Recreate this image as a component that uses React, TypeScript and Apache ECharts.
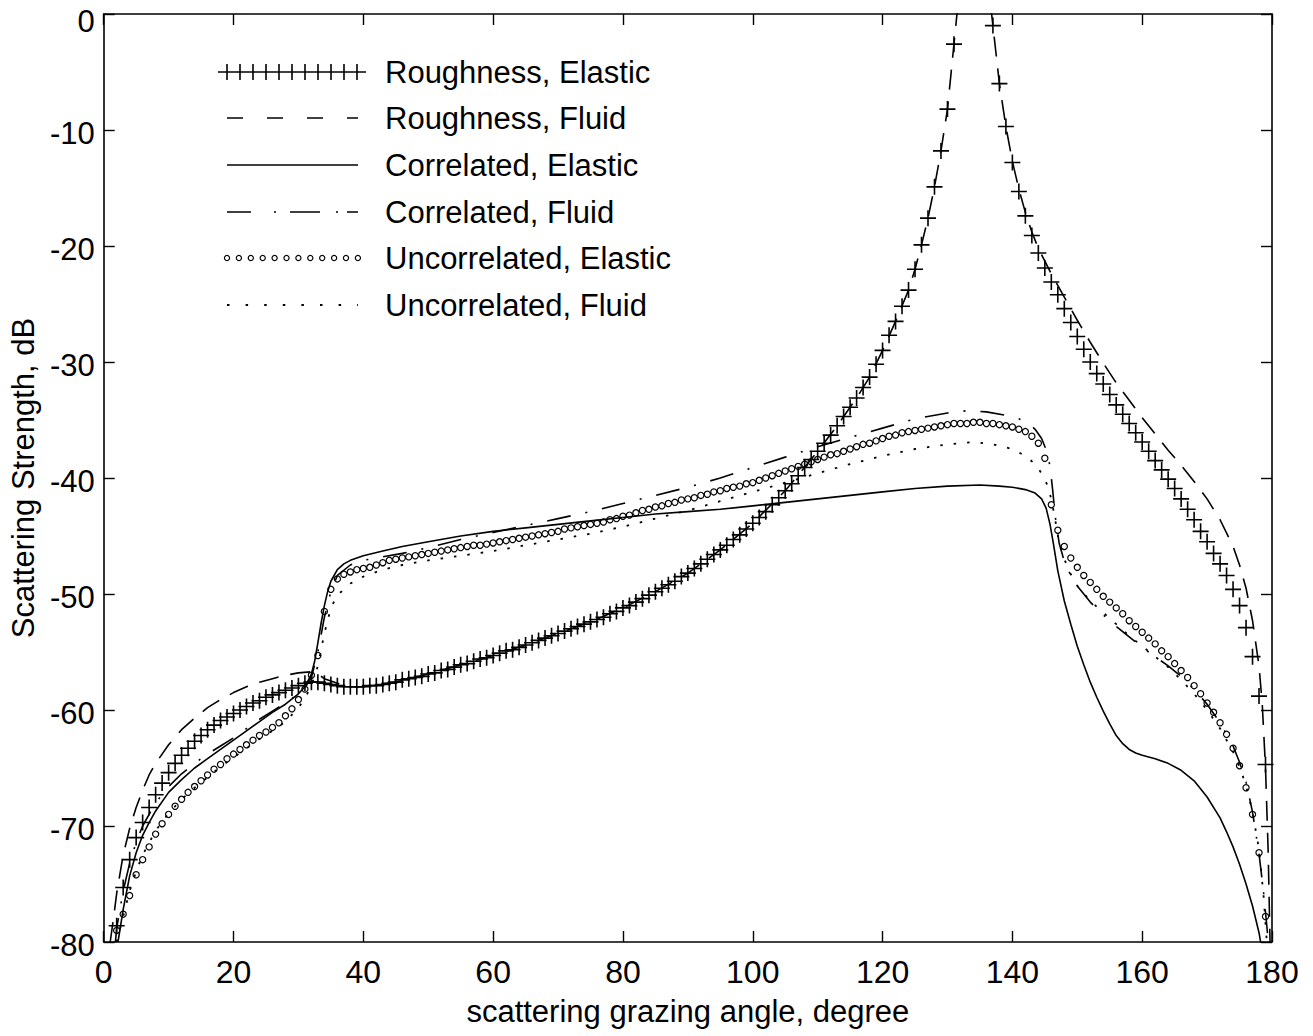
import React, { useEffect, useRef } from "react";
import * as echarts from "echarts";

// ---------------- data ----------------
const X_TICKS = [0, 20, 40, 60, 80, 100, 120, 140, 160, 180];
const Y_TICKS = [-80, -70, -60, -50, -40, -30, -20, -10, 0];

const LEGEND_LABELS = [
  "Roughness, Elastic",
  "Roughness, Fluid",
  "Correlated, Elastic",
  "Correlated, Fluid",
  "Uncorrelated, Elastic",
  "Uncorrelated, Fluid",
];

// Roughness, Elastic ('+' markers every degree), left branch from 2 deg
const RE_LEFT_START = 2;
const RE_LEFT = [
  -78.6, -75.3, -72.9, -71.0, -69.7, -68.4, -67.3, -66.3, -65.4, -64.6,
  -63.9, -63.3, -62.7, -62.2, -61.7, -61.3, -60.9, -60.6, -60.3, -60.0,
  -59.7, -59.4, -59.2, -58.9, -58.7, -58.5, -58.3, -58.1, -57.9, -57.7,
  -57.6, -57.6, -57.7, -57.8, -57.9, -58.0, -58.0, -58.0, -58.0, -57.9,
  -57.9, -57.8, -57.7, -57.6, -57.4, -57.3, -57.2, -57.1, -56.9, -56.8,
  -56.6, -56.5, -56.3, -56.1, -56.0, -55.8, -55.6, -55.5, -55.3, -55.1,
  -54.9, -54.8, -54.6, -54.4, -54.2, -54.0, -53.8, -53.6, -53.4, -53.2,
  -53.0, -52.8, -52.6, -52.4, -52.2, -52.0, -51.7, -51.5, -51.2, -51.0,
  -50.7, -50.4, -50.1, -49.8, -49.5, -49.2, -48.9, -48.5, -48.2, -47.8,
  -47.4, -47.0, -46.6, -46.2, -45.8, -45.3, -44.9, -44.4, -43.9, -43.4,
  -42.9, -42.3, -41.7, -41.1, -40.5, -39.8, -39.1, -38.4, -37.7, -37.0,
  -36.3, -35.5, -34.7, -33.9, -33.1, -32.2, -31.3, -30.2, -29.0, -27.7,
  -26.5, -25.2, -23.8, -22.0, -19.9, -17.6, -14.9, -11.8, -8.2, -2.6,
];
// right branch from 137 deg
const RE_RIGHT_START = 137;
const RE_RIGHT = [
  -1.0, -6.0, -9.7, -12.8, -15.3, -17.4, -19.1, -20.6, -21.9, -23.1,
  -24.2, -25.4, -26.6, -27.8, -28.9, -30.0, -31.0, -31.9, -32.8, -33.7,
  -34.5, -35.3, -36.1, -36.9, -37.7, -38.5, -39.3, -40.1, -40.9, -41.8,
  -42.7, -43.6, -44.6, -45.5, -46.5, -47.4, -48.4, -49.6, -51.0, -52.9,
  -55.4, -58.8, -64.7,
];

// Uncorrelated, Elastic ('o' markers every degree) from 2 deg
const UE_START = 2;
const UE = [
  -79.0, -77.6, -76.0, -74.2, -72.9, -71.8, -70.7, -69.8, -69.0, -68.3,
  -67.7, -67.1, -66.6, -66.1, -65.6, -65.1, -64.7, -64.2, -63.8, -63.4,
  -63.0, -62.6, -62.2, -61.9, -61.5, -61.1, -60.5, -59.9, -59.1, -58.2,
  -57.0, -55.3, -51.5, -49.6, -48.7, -48.3, -48.1, -47.9, -47.8, -47.7,
  -47.5, -47.3, -47.1, -47.0, -46.9, -46.8, -46.7, -46.6, -46.5, -46.4,
  -46.3, -46.2, -46.1, -46.0, -45.9, -45.8, -45.8, -45.7, -45.6, -45.5,
  -45.4, -45.3, -45.2, -45.1, -45.0, -44.9, -44.8, -44.7, -44.6, -44.4,
  -44.3, -44.2, -44.1, -44.0, -43.9, -43.8, -43.6, -43.5, -43.3, -43.2,
  -43.0, -42.8, -42.7, -42.5, -42.4, -42.2, -42.1, -41.9, -41.8, -41.7,
  -41.5, -41.4, -41.2, -41.1, -40.9, -40.8, -40.7, -40.5, -40.4, -40.2,
  -40.0, -39.8, -39.6, -39.4, -39.2, -39.0, -38.8, -38.6, -38.4, -38.2,
  -38.0, -37.9, -37.7, -37.5, -37.3, -37.1, -37.0, -36.8, -36.6, -36.4,
  -36.3, -36.1, -36.0, -35.9, -35.8, -35.7, -35.6, -35.5, -35.4, -35.3,
  -35.3, -35.3, -35.2, -35.2, -35.3, -35.3, -35.4, -35.5, -35.6, -35.8,
  -36.0, -36.4, -37.0, -38.3, -42.3, -44.5, -45.9, -46.9, -47.7, -48.4,
  -49.0, -49.6, -50.2, -50.7, -51.2, -51.7, -52.3, -52.8, -53.3, -53.8,
  -54.3, -54.9, -55.4, -56.0, -56.6, -57.2, -57.9, -58.6, -59.4, -60.2,
  -61.1, -62.1, -63.3, -64.8, -66.7, -69.0, -72.3, -77.8,
];

// Roughness, Fluid (dashed)
const RF_X = [
  1, 1.5, 2, 3, 4, 5, 6, 7, 8, 10, 12, 14, 16, 18, 20, 22, 24, 26, 28, 30,
  32, 33, 34, 36, 38, 40, 45, 50, 55, 60, 65, 70, 75, 80, 85, 90, 95, 100,
  105, 110, 113, 116, 118, 120, 122, 124, 125, 126, 127, 128, 129, 130, 131,
  132, 134, 136, 137, 138, 139, 140, 141, 142, 143, 144, 146, 148, 150, 152,
  154, 156, 158, 160, 162, 164, 166, 168, 170, 172, 174, 175, 176, 177, 178,
  178.5, 179, 179.4, 179.7,
];
const RF_Y = [
  -80, -78, -75.8, -72.5, -70.2, -68.4, -66.9, -65.6, -64.6, -63.0, -61.7,
  -60.7, -59.8, -59.1, -58.5, -58.0, -57.6, -57.3, -57.0, -56.8, -56.7, -56.9,
  -57.3, -57.7, -58.0, -58.0, -57.6, -56.9, -56.1, -55.3, -54.4, -53.4, -52.4,
  -51.2, -49.8, -48.2, -46.2, -43.9, -41.1, -37.7, -35.5, -33.1, -31.3, -29.0,
  -26.5, -23.8, -22.0, -19.9, -17.6, -14.9, -11.8, -8.2, -2.6, 3, 8, 4, -1.0,
  -6.0, -9.7, -12.7, -15.1, -17.1, -18.8, -20.2, -22.4, -24.4, -26.4, -28.3,
  -30.1, -31.8, -33.3, -34.8, -36.2, -37.6, -38.9, -40.3, -41.8, -43.6, -45.9,
  -47.5, -49.5, -52.3, -56.2, -59.5, -65, -72, -80,
];

// Correlated, Elastic (solid)
const CE_X = [
  2.2, 3, 4, 5, 6, 7, 8, 10, 12, 14, 16, 18, 20, 22, 24, 26, 28, 30, 31, 32,
  32.5, 33, 33.5, 34, 34.5, 35, 36, 37, 38, 40, 43, 46, 50, 55, 60, 65, 70, 75,
  80, 85, 90, 95, 100, 105, 110, 115, 120, 125, 130, 135, 138, 140, 142, 143.5,
  144.5, 145.2, 145.8, 146.3, 147, 148, 149, 150, 151, 152, 153, 154, 155, 156,
  157, 158, 159, 160, 162, 164, 166, 168, 170, 172, 173, 174, 175, 176, 177,
  178, 178.4,
];
const CE_Y = [
  -80, -77.2, -74.3, -72.3, -70.8, -69.7, -68.7, -67.1, -66.0, -65.0, -64.2,
  -63.4, -62.6, -61.8, -61.0, -60.2, -59.5, -58.6, -58.0, -56.9, -55.8, -54.2,
  -52.5, -51.0, -49.8, -48.9, -47.9, -47.4, -47.1, -46.7, -46.3, -45.9, -45.5,
  -45.0, -44.6, -44.3, -44.0, -43.7, -43.4, -43.1, -42.9, -42.7, -42.4, -42.1,
  -41.8, -41.5, -41.2, -40.9, -40.7, -40.6, -40.7, -40.8, -41.0, -41.3, -41.8,
  -42.6, -44.0, -45.6, -48.0, -50.6, -52.6, -54.5, -56.1, -57.6, -58.9, -60.1,
  -61.2, -62.2, -62.9, -63.4, -63.7, -63.9, -64.2, -64.6, -65.2, -66.1, -67.5,
  -69.3, -70.5, -71.8, -73.3, -75.0, -76.9, -79.2, -80.5,
];

// Correlated, Fluid (dash-dot)
const CF_X = [
  1.8, 2, 3, 4, 5, 6, 8, 10, 12, 14, 16, 18, 20, 22, 24, 26, 28, 30, 31, 32,
  33, 34, 35, 36, 38, 40, 43, 46, 50, 55, 60, 65, 70, 75, 80, 85, 90, 95, 100,
  105, 110, 115, 120, 125, 130, 133, 136, 139, 141, 142.5, 143.5, 144.5, 145.3,
  145.8, 146.2, 146.6, 147.2, 148, 149, 150, 152, 154, 156, 158, 160, 162, 164,
  166, 168, 170, 172, 174, 175, 176, 177, 178, 178.7, 179.2, 179.5,
];
const CF_Y = [
  -80, -78.8, -75.6, -73.2, -71.4, -70.0, -68.0, -66.6, -65.5, -64.6, -63.8,
  -63.1, -62.4, -61.6, -60.8, -60.1, -59.4, -58.6, -58.1, -57.2, -55.0, -52.0,
  -49.8, -48.4, -47.5, -47.1, -46.8, -46.5, -46.0, -45.3, -44.7, -44.1, -43.5,
  -42.9, -42.2, -41.5, -40.8, -40.0, -39.1, -38.2, -37.3, -36.5, -35.7, -34.9,
  -34.4, -34.2, -34.3, -34.6, -34.9, -35.3, -35.8, -36.6, -37.7, -39.0, -41.0,
  -43.3, -45.6, -47.2, -48.4, -49.3, -50.7, -51.8, -52.8, -53.7, -54.6, -55.4,
  -56.2, -57.1, -58.2, -59.5, -61.1, -63.1, -64.5, -66.2, -68.8, -72.4, -75.7,
  -78.6, -80.5,
];

// Uncorrelated, Fluid (dotted)
const UF_X = [
  2, 3, 4, 5, 6, 8, 10, 12, 14, 16, 18, 20, 22, 24, 26, 28, 30, 31, 32, 33, 34,
  35, 36, 38, 40, 43, 46, 50, 55, 60, 65, 70, 75, 80, 85, 90, 95, 100, 105,
  110, 115, 120, 125, 130, 134, 137, 140, 142, 143.5, 144.5, 145.3, 146, 146.6,
  147.2, 148, 149, 150, 152, 154, 156, 158, 160, 162, 164, 166, 168, 170, 172,
  174, 175, 176, 177, 178, 178.7, 179.2,
];
const UF_Y = [
  -80, -77.8, -75.6, -73.9, -72.5, -70.4, -68.9, -67.7, -66.7, -65.8, -64.9,
  -64.1, -63.3, -62.5, -61.8, -61.0, -59.8, -59.0, -57.9, -56.2, -53.4, -51.2,
  -50.1, -49.1, -48.5, -47.9, -47.5, -47.1, -46.7, -46.3, -45.8, -45.3, -44.8,
  -44.2, -43.5, -42.8, -42.0, -41.2, -40.4, -39.6, -38.8, -38.1, -37.5, -37.1,
  -36.9, -37.1, -37.5, -38.1, -38.8, -39.6, -40.5, -41.8, -43.6, -45.6, -47.0,
  -48.3, -49.3, -50.6, -51.6, -52.6, -53.6, -54.5, -55.4, -56.3, -57.4, -58.6,
  -60.0, -61.6, -63.6, -64.9, -66.5, -68.8, -72.0, -76.0, -80,
];

// ---------------- helpers ----------------
const seq = (start: number, vals: number[]) => vals.map((v, i) => [start + i, v]);
const zip = (xs: number[], ys: number[]) => xs.map((x, i) => [x, ys[i]]);

const FONT = "'Liberation Sans', Arial, Helvetica, sans-serif";
const PLUS =
  "path://M-0.1,-1 L0.1,-1 L0.1,-0.1 L1,-0.1 L1,0.1 L0.1,0.1 L0.1,1 L-0.1,1 L-0.1,0.1 L-1,0.1 L-1,-0.1 L-0.1,-0.1 Z";

function buildLegend() {
  const els: any[] = [];
  const rowY = [72, 118, 165, 212, 258, 305];
  const x0 = 227;
  const x1 = 358;
  const stroke = { stroke: "#000", lineWidth: 1.6 };
  // row 0: plus row
  els.push({ type: "line", shape: { x1: 218, y1: rowY[0], x2: 366, y2: rowY[0] }, style: { ...stroke } });
  for (let i = 0; i < 11; i++) {
    const x = x0 + i * 13;
    els.push({ type: "line", shape: { x1: x, y1: rowY[0] - 8, x2: x, y2: rowY[0] + 8 }, style: { ...stroke } });
  }
  // row 1: dashed
  els.push({ type: "line", shape: { x1: x0, y1: rowY[1], x2: x1, y2: rowY[1] }, style: { ...stroke, lineDash: [16, 24] } });
  // row 2: solid
  els.push({ type: "line", shape: { x1: x0, y1: rowY[2], x2: x1, y2: rowY[2] }, style: { ...stroke } });
  // row 3: dash-dot
  els.push({ type: "line", shape: { x1: x0, y1: rowY[3], x2: x1, y2: rowY[3] }, style: { ...stroke, lineDash: [24, 23, 2, 14, 30, 16, 2, 9] } });
  // row 4: circles
  for (let i = 0; i < 12; i++) {
    els.push({ type: "circle", shape: { cx: x0 + i * 11.9, cy: rowY[4], r: 2.6 }, style: { fill: "none", stroke: "#000", lineWidth: 1.2 } });
  }
  // row 5: dotted
  els.push({ type: "line", shape: { x1: x0, y1: rowY[5], x2: x1, y2: rowY[5] }, style: { ...stroke, lineWidth: 2, lineDash: [2.5, 16.1] } });
  LEGEND_LABELS.forEach((t, i) => {
    els.push({
      type: "text",
      x: 385,
      y: rowY[i],
      style: { text: t, fill: "#000", fontSize: 31, fontFamily: FONT, verticalAlign: "middle", align: "left" },
    });
  });
  return els;
}

export default function App() {
  const ref = useRef<HTMLDivElement>(null);
  useEffect(() => {
    if (!ref.current) return;
    const chart = echarts.init(ref.current, undefined, { renderer: "svg" });
    const axisLine = { show: true, onZero: false, lineStyle: { color: "#000", width: 1.6 } };
    const tick = { show: true, inside: true, length: 11, lineStyle: { color: "#000", width: 1.4 } };
    const lineBase = { type: "line", showSymbol: false, symbol: "none", silent: true, clip: true, z: 3 } as any;
    chart.setOption({
      animation: false,
      backgroundColor: "#fff",
      textStyle: { fontFamily: FONT },
      grid: { left: 98, top: 14, width: 1174, height: 928, containLabel: false },
      graphic: buildLegend(),
      xAxis: [
        {
          type: "value",
          min: X_TICKS[0],
          max: X_TICKS[X_TICKS.length - 1],
          interval: 20,
          position: "bottom",
          axisLine,
          axisTick: tick,
          splitLine: { show: false },
          axisLabel: { color: "#000", fontSize: 32, fontFamily: FONT, margin: 14 },
          name: "scattering grazing angle, degree",
          nameLocation: "middle",
          nameGap: 54,
          nameTextStyle: { color: "#000", fontSize: 31, fontFamily: FONT },
        },
        {
          type: "value",
          min: X_TICKS[0],
          max: X_TICKS[X_TICKS.length - 1],
          interval: 20,
          position: "top",
          axisLine,
          axisTick: tick,
          splitLine: { show: false },
          axisLabel: { show: false },
        },
      ],
      yAxis: [
        {
          type: "value",
          min: Y_TICKS[0],
          max: Y_TICKS[Y_TICKS.length - 1],
          interval: 10,
          position: "left",
          axisLine,
          axisTick: tick,
          splitLine: { show: false },
          axisLabel: {
            color: "#000",
            fontSize: 31,
            fontFamily: FONT,
            margin: 9,
            padding: [7, 0, 0, 0],
            formatter: (v: number) => (v === 0 ? "{z|0}" : String(v)),
            rich: { z: { color: "#000", fontSize: 31, fontFamily: FONT, padding: [8, 0, 0, 0] } },
          },
          name: "Scattering Strength, dB",
          nameLocation: "middle",
          nameGap: 62,
          nameTextStyle: { color: "#000", fontSize: 31, fontFamily: FONT },
        },
        {
          type: "value",
          min: Y_TICKS[0],
          max: Y_TICKS[Y_TICKS.length - 1],
          interval: 10,
          position: "right",
          axisLine,
          axisTick: tick,
          splitLine: { show: false },
          axisLabel: { show: false },
        },
      ],
      series: [
        {
          name: LEGEND_LABELS[0],
          type: "line",
          data: [...seq(RE_LEFT_START, RE_LEFT), ...seq(RE_RIGHT_START, RE_RIGHT)],
          symbol: PLUS,
          symbolSize: 16,
          showSymbol: true,
          lineStyle: { opacity: 0, width: 0 },
          itemStyle: { color: "#000", borderWidth: 0 },
          silent: true,
          clip: true,
          z: 4,
        },
        { ...lineBase, name: LEGEND_LABELS[1], data: zip(RF_X, RF_Y), lineStyle: { color: "#000", width: 1.6, type: [20, 12] } },
        { ...lineBase, name: LEGEND_LABELS[2], data: zip(CE_X, CE_Y), lineStyle: { color: "#000", width: 1.6, type: "solid" } },
        { ...lineBase, name: LEGEND_LABELS[3], data: zip(CF_X, CF_Y), lineStyle: { color: "#000", width: 1.6, type: [24, 15, 2, 15] } },
        {
          name: LEGEND_LABELS[4],
          type: "line",
          data: seq(UE_START, UE),
          symbol: "circle",
          symbolSize: 6.2,
          showSymbol: true,
          lineStyle: { opacity: 0, width: 0 },
          itemStyle: { color: "rgba(0,0,0,0)", borderColor: "#000", borderWidth: 1.2 },
          silent: true,
          clip: true,
          z: 4,
        },
        { ...lineBase, name: LEGEND_LABELS[5], data: zip(UF_X, UF_Y), lineStyle: { color: "#000", width: 1.8, type: [2.5, 11] } },
      ],
    });
    return () => chart.dispose();
  }, []);
  return (
    <div
      ref={ref}
      style={{ position: "absolute", left: 0, top: 0, width: 1313, height: 1036, background: "#fff" }}
    />
  );
}
